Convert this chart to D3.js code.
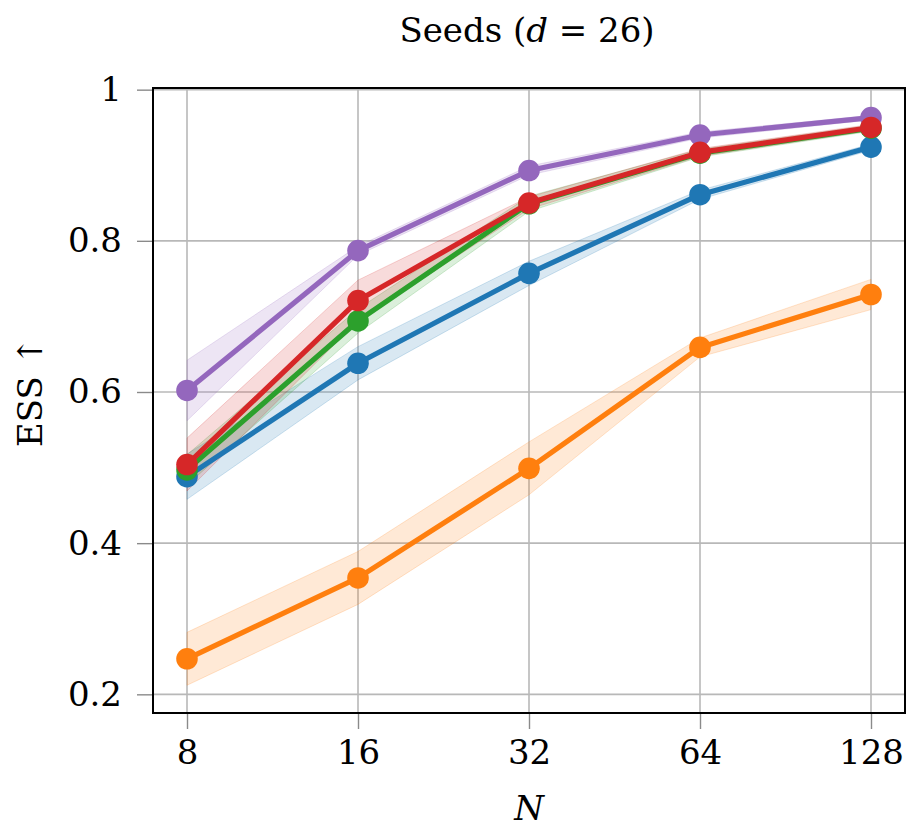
<!DOCTYPE html>
<html>
<head>
<meta charset="utf-8">
<script src="https://cdn.jsdelivr.net/npm/d3@7"></script>
<style>
  body { margin: 0; background: #fff; }
  svg { display: block; }
  text { font-family: "DejaVu Serif", serif; fill: #000; }
</style>
</head>
<body>
<svg id="chart" width="913" height="834"></svg>
<script>
// ---- data ----
const Ns = [8, 16, 32, 64, 128];
const xTickLabels = ["8", "16", "32", "64", "128"];
const yTicks = [0.2, 0.4, 0.6, 0.8, 1.0];
const yTickLabels = ["0.2", "0.4", "0.6", "0.8", "1"];

const blueMean   = [0.488, 0.638, 0.757, 0.861, 0.924];
const blueErr    = [0.030, 0.022, 0.016, 0.006, 0.004];
const orangeMean = [0.247, 0.354, 0.499, 0.659, 0.729];
const orangeErr  = [0.035, 0.035, 0.035, 0.0125, 0.020];
const greenMean  = [0.497, 0.694, 0.849, 0.916, 0.949];
const greenErr   = [0.020, 0.016, 0.010, 0.005, 0.004];
const purpleMean = [0.602, 0.787, 0.893, 0.940, 0.963];
const purpleErr  = [0.040, 0.006, 0.006, 0.004, 0.003];
const redMean    = [0.504, 0.721, 0.850, 0.917, 0.950];
const redErr     = [0.035, 0.027, 0.008, 0.005, 0.004];

const seriesList = [
  { mean: blueMean,   err: blueErr,   color: "#1f77b4" },
  { mean: orangeMean, err: orangeErr, color: "#ff7f0e" },
  { mean: greenMean,  err: greenErr,  color: "#2ca02c" },
  { mean: purpleMean, err: purpleErr, color: "#9467bd" },
  { mean: redMean,    err: redErr,    color: "#d62728" }
];

// ---- layout ----
const FONT = '"DejaVu Serif", serif';
const FS = "34px";
const margin = { left: 153, top: 88, right: 8, bottom: 121 };
const W = 913, H = 834;
const pw = W - margin.left - margin.right;   // 752
const ph = H - margin.top - margin.bottom;   // 625

const svg = d3.select("#chart");
const g = svg.append("g").attr("transform", `translate(${margin.left},${margin.top})`);

const x = d3.scaleLog().base(2).domain([8, 128]).range([34, 718]);
const y = d3.scaleLinear().domain([0.1753, 1.0022]).range([ph, 0]);

// grid
g.append("g").selectAll("line").data(Ns).join("line")
  .attr("x1", d => x(d)).attr("x2", d => x(d))
  .attr("y1", 0).attr("y2", ph)
  .attr("stroke", "#b8b8b8").attr("stroke-width", 1.6);
g.append("g").selectAll("line").data(yTicks).join("line")
  .attr("x1", 0).attr("x2", pw)
  .attr("y1", d => y(d)).attr("y2", d => y(d))
  .attr("stroke", "#b8b8b8").attr("stroke-width", 1.6);

// axes
const xAxis = d3.axisBottom(x).tickValues(Ns)
  .tickFormat((d, i) => xTickLabels[i]).tickSize(16).tickPadding(11);
const yAxis = d3.axisLeft(y).tickValues(yTicks)
  .tickFormat((d, i) => yTickLabels[i]).tickSize(16).tickPadding(15);

const gx = g.append("g").attr("transform", `translate(0,${ph})`).call(xAxis);
const gy = g.append("g").call(yAxis);
[gx, gy].forEach(a => {
  a.attr("font-family", null).attr("font-size", null);
  a.select(".domain").remove();
  a.selectAll(".tick line").attr("stroke", "#8a8a8a").attr("stroke-width", 1.4);
  a.selectAll(".tick text").style("font-family", FONT)
    .style("font-size", FS).attr("fill", "#000");
});

// series
const area = d3.area()
  .x((d, i) => x(Ns[i]))
  .y0(d => y(d.lo)).y1(d => y(d.hi));
const line = d3.line().x((d, i) => x(Ns[i])).y(d => y(d));

seriesList.forEach(s => {
  const band = s.mean.map((m, i) => ({ lo: m - s.err[i], hi: m + s.err[i] }));
  g.append("path").datum(band).attr("d", area)
    .attr("fill", s.color).attr("fill-opacity", 0.17)
    .attr("stroke", s.color).attr("stroke-opacity", 0.2).attr("stroke-width", 1);
});
seriesList.forEach(s => {
  g.append("path").datum(s.mean).attr("d", line)
    .attr("fill", "none").attr("stroke", s.color).attr("stroke-width", 5.2)
    .attr("stroke-linejoin", "round");
  g.append("g").selectAll("circle").data(s.mean).join("circle")
    .attr("cx", (d, i) => x(Ns[i])).attr("cy", d => y(d))
    .attr("r", 10.8).attr("fill", s.color);
});

// frame
g.append("rect").attr("x", 0).attr("y", 0).attr("width", pw).attr("height", ph)
  .attr("fill", "none").attr("stroke", "#000").attr("stroke-width", 2);

// title
const title = svg.append("text").attr("x", 527).attr("y", 42)
  .attr("text-anchor", "middle").style("font-family", FONT).style("font-size", FS);
title.append("tspan").text("Seeds (");
title.append("tspan").attr("font-style", "italic").text("d");
title.append("tspan").text(" = 26)");

// axis labels
svg.append("text").attr("x", 529).attr("y", 820).attr("text-anchor", "middle")
  .attr("font-style", "italic").style("font-family", FONT).style("font-size", FS).text("N");

svg.append("text").attr("transform", "translate(42,392) rotate(-90)")
  .attr("text-anchor", "middle").style("font-family", FONT).style("font-size", FS).text("ESS ↑");
</script>
</body>
</html>
